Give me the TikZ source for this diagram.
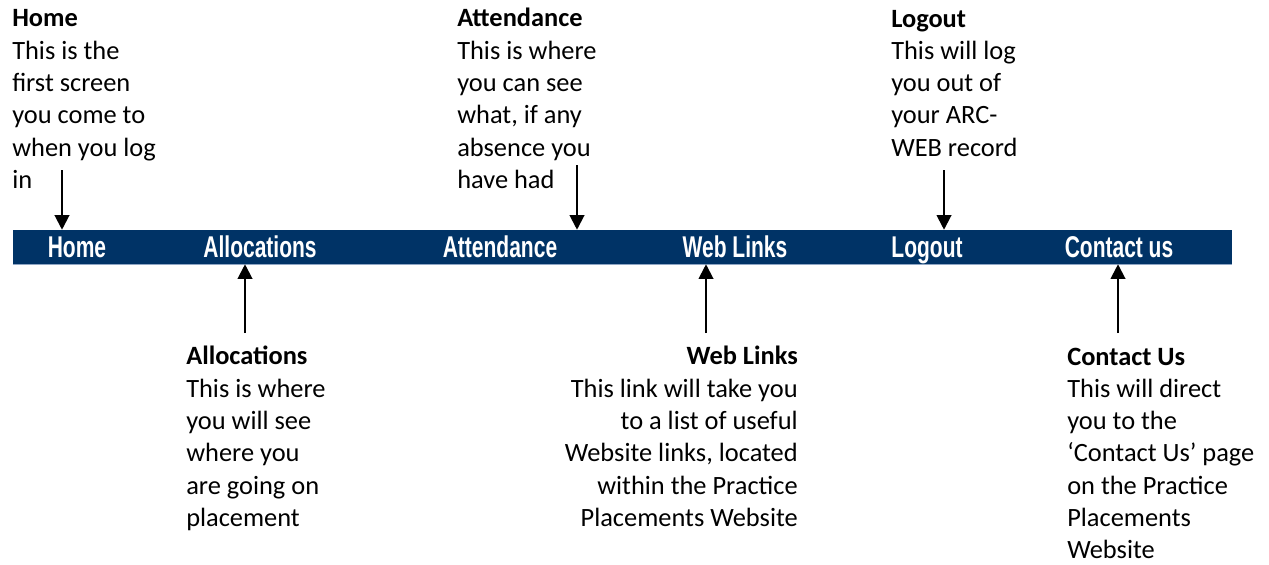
\documentclass[tikz,border=0pt]{standalone}
\usepackage{fontspec}
\setmainfont{Carlito}
\newfontfamily\barfont{Liberation Sans Bold}[FakeStretch=0.70]
\usetikzlibrary{arrows.meta}
\definecolor{navbar}{HTML}{003366}
\definecolor{navedge}{HTML}{8FA6C4}

\begin{document}
\begin{tikzpicture}[x=0.75pt,y=-0.75pt,
  note/.style={align=left,inner sep=0pt,font=\fontsize{19.8}{24.2}\selectfont},
  tab/.style={anchor=base,inner sep=0pt,text=white,font=\barfont\fontsize{22.5}{22.5}\selectfont},
  pointer/.style={-{Triangle[length=11pt,width=11pt]},line width=1.5pt}]

\useasboundingbox (0,0) rectangle (1269,564);

% menu bar
\node[fill=navbar,inner sep=0pt,minimum width=914.25pt,minimum height=25.5pt] (0) at (622.5,247) {};
\draw[navedge,line width=0.8pt] (0.south west)--(0.south east);

\node[tab] (1) at (77,257) {Home};
\node[tab] (2) at (260,257) {Allocations};
\node[tab] (3) at (500,257) {Attendance};
\node[tab] (4) at (735,257) {Web Links};
\node[tab] (5) at (927,257) {Logout};
\node[tab] (6) at (1119,257) {Contact us};

% notes above the bar (placed by the baseline of their last line)
\node[note,anchor=base west] (7) at (12,188.3) {\textbf{Home}\\This is the\\first screen\\you come to\\when you log\\in};
\node[note,anchor=base west] (8) at (457,188.3) {\textbf{Attendance}\\This is where\\you can see\\what, if any\\absence you\\have had};
\node[note,anchor=base west] (9) at (891,156.1) {\textbf{Logout}\\This will log\\you out of\\your ARC-\\WEB record};

% notes below the bar
\node[note,anchor=base west] (10) at (186,526.3) {\textbf{Allocations}\\This is where\\you will see\\where you\\are going on\\placement};
\node[note,align=right,anchor=base east] (11) at (798,526.3) {\textbf{Web Links}\\This link will take you\\to a list of useful\\Website links, located\\within the Practice\\Placements Website};
\node[note,anchor=base west] (12) at (1067,558.6) {\textbf{Contact Us}\\This will direct\\you to the\\‘Contact Us’ page\\on the Practice\\Placements\\Website};

\coordinate (a1) at (62,170);
\coordinate (a3) at (577,165);
\coordinate (a5) at (944,170);
\coordinate (a2) at (245,333);
\coordinate (a4) at (706,333);
\coordinate (a6) at (1118,333);

\draw[pointer] (a1)--(a1 |- 0.north);
\draw[pointer] (a3)--(a3 |- 0.north);
\draw[pointer] (a5)--(a5 |- 0.north);
\draw[pointer] (a2)--(a2 |- 0.south);
\draw[pointer] (a4)--(a4 |- 0.south);
\draw[pointer] (a6)--(a6 |- 0.south);

\end{tikzpicture}
\end{document}
